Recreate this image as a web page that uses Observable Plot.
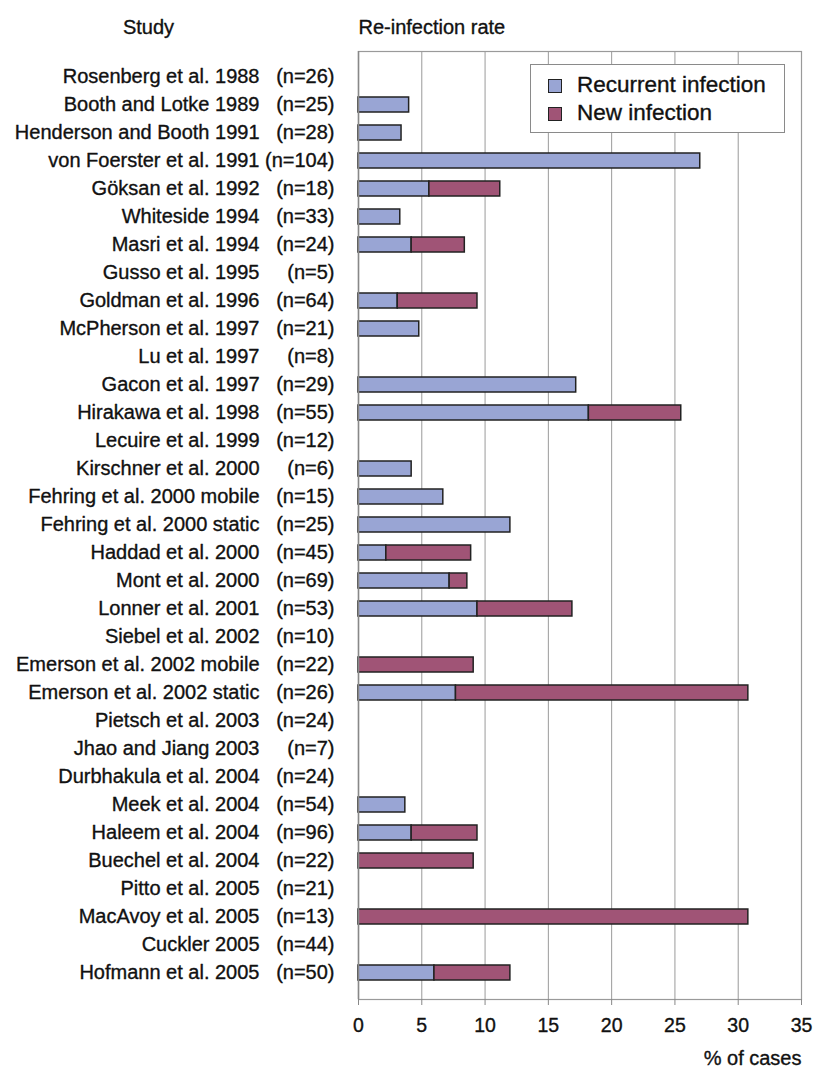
<!DOCTYPE html>
<html>
<head>
<meta charset="utf-8">
<script src="https://cdn.jsdelivr.net/npm/d3@7"></script>
<script src="https://cdn.jsdelivr.net/npm/@observablehq/plot@0.6"></script>
<style>
  html, body { margin: 0; padding: 0; background: #fff; }
  #wrap { position: relative; width: 817px; height: 1069px; font-family: "Liberation Sans", Arial, sans-serif; }
  #legend { position: absolute; left: 530px; top: 64px; width: 255px; height: 69px; border: 1px solid #8a8a8a; background: #fff; box-sizing: border-box; }
  .item { position: absolute; left: 17px; font-size: 22.5px; color: #111; line-height: 22px; -webkit-text-stroke: 0.35px #111; }
  .sw { position: absolute; left: 0; top: 4px; width: 12px; height: 12px; border: 1.5px solid #222; }
  .lab { position: absolute; left: 29px; top: -1px; white-space: nowrap; }
</style>
</head>
<body>
<div id="wrap"></div>
<script>
const studies = ["Rosenberg et al. 1988","Booth and Lotke 1989","Henderson and Booth 1991","von Foerster et al. 1991","Göksan et al. 1992","Whiteside 1994","Masri et al. 1994","Gusso et al. 1995","Goldman et al. 1996","McPherson et al. 1997","Lu et al. 1997","Gacon et al. 1997","Hirakawa et al. 1998","Lecuire et al. 1999","Kirschner et al. 2000","Fehring et al. 2000 mobile","Fehring et al. 2000 static","Haddad et al. 2000","Mont et al. 2000","Lonner et al. 2001","Siebel et al. 2002","Emerson et al. 2002 mobile","Emerson et al. 2002 static","Pietsch et al. 2003","Jhao and Jiang 2003","Durbhakula et al. 2004","Meek et al. 2004","Haleem et al. 2004","Buechel et al. 2004","Pitto et al. 2005","MacAvoy et al. 2005","Cuckler 2005","Hofmann et al. 2005"];
const ns = [26,25,28,104,18,33,24,5,64,21,8,29,55,12,6,15,25,45,69,53,10,22,26,24,7,24,54,96,22,21,13,44,50];
const recurrent = [0,4.0,3.4,27.0,5.6,3.3,4.2,0,3.1,4.8,0,17.2,18.2,0,4.2,6.7,12.0,2.2,7.2,9.4,0,0,7.7,0,0,0,3.7,4.2,0,0,0,0,6.0];
const newInfection = [0,0,0,0,5.6,0,4.2,0,6.3,0,0,0,7.3,0,0,0,0,6.7,1.4,7.5,0,9.1,23.1,0,0,0,0,5.2,9.1,0,30.8,0,6.0];
const seriesNames = ["Recurrent infection","New infection"];
const seriesColors = ["#99a5d4","#a05476"];
const xTicks = [0,5,10,15,20,25,30,35];

const rows = [];
studies.forEach((s, i) => {
  rows.push({study: s, type: seriesNames[0], value: recurrent[i]});
  rows.push({study: s, type: seriesNames[1], value: newInfection[i]});
});
const bars = rows.filter(d => d.value > 0);
const labels = studies.map((s, i) => ({study: s, n: `(n=${ns[i]})`}));

const font = "Liberation Sans, Arial, sans-serif";
const txt = {fill: "#111", stroke: "#111", strokeWidth: 0.35};
const chart = Plot.plot({
  width: 817,
  height: 1069,
  marginLeft: 358,
  marginRight: 16,
  marginTop: 51,
  marginBottom: 70,
  style: {fontFamily: font, fontSize: "19px", color: "#111", background: "#fff"},
  x: {domain: [0, 35]},
  y: {domain: studies, range: [54, 995], padding: 0.48, axis: null},
  color: {domain: seriesNames, range: seriesColors},
  marks: [
    Plot.gridX(xTicks.slice(1, -1), {stroke: "#9a9a9a", strokeOpacity: 1, strokeWidth: 1}),
    Plot.frame({stroke: "#9a9a9a", strokeWidth: 1.2}),
    Plot.barX(bars, Plot.stackX({y: "study", x: "value", fill: "type", order: seriesNames, stroke: "#222", strokeWidth: 1.5, inset: 0})),
    Plot.ruleX([0], {stroke: "#888", strokeWidth: 1.5}),
    Plot.axisX({ticks: xTicks, tickSize: 6, tickPadding: 13, label: null, fontSize: 19.5, stroke: "#888", textStroke: "#111", textStrokeWidth: 0.35}),
    Plot.text(labels, {y: "study", text: "study", frameAnchor: "left", dx: -99, textAnchor: "end", fontSize: 20, ...txt}),
    Plot.text(labels, {y: "study", text: "n", frameAnchor: "left", dx: -24, textAnchor: "end", fontSize: 20, ...txt}),
    Plot.text(["Study"], {frameAnchor: "top-left", dx: -210, dy: -32, textAnchor: "middle", fontSize: 20, ...txt}),
    Plot.text(["Re-infection rate"], {frameAnchor: "top-left", dx: 0, dy: -32, textAnchor: "start", fontSize: 20, ...txt}),
    Plot.text(["% of cases"], {frameAnchor: "bottom-right", dy: 65, textAnchor: "end", fontSize: 20, ...txt})
  ]
});
const wrap = document.getElementById("wrap");
wrap.appendChild(chart);

const legend = document.createElement("div");
legend.id = "legend";
seriesNames.forEach((name, i) => {
  const it = document.createElement("div");
  it.className = "item";
  it.style.top = (10 + i * 28) + "px";
  const sw = document.createElement("div");
  sw.className = "sw";
  sw.style.background = seriesColors[i];
  const lb = document.createElement("div");
  lb.className = "lab";
  lb.textContent = name;
  it.appendChild(sw); it.appendChild(lb);
  legend.appendChild(it);
});
wrap.appendChild(legend);
</script>
</body>
</html>
